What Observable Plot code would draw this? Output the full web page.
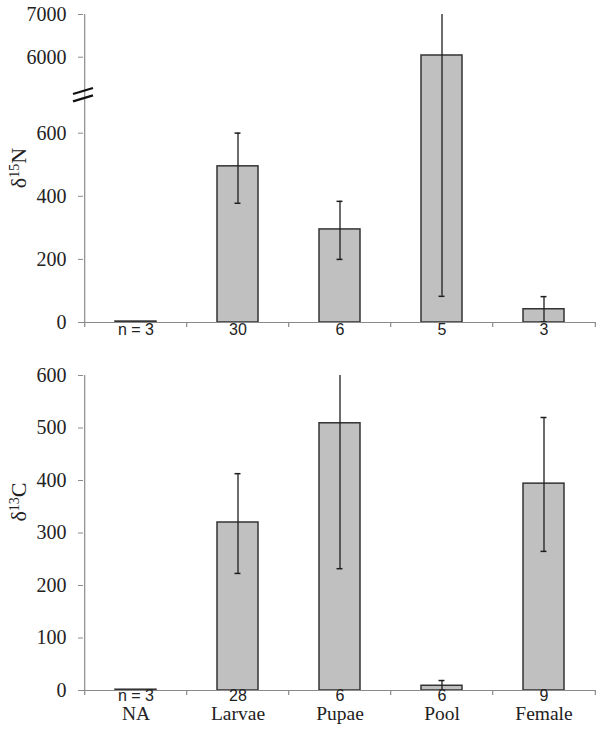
<!DOCTYPE html>
<html><head><meta charset="utf-8">
<script src="https://cdn.jsdelivr.net/npm/d3@7"></script>
<script src="https://cdn.jsdelivr.net/npm/@observablehq/plot@0.6"></script>
<style>body{margin:0;background:#fff} svg{display:block}
g[aria-label="y-axis tick label"], g[aria-label="y-axis tick label"] text {font-family: "Liberation Serif", "Times New Roman", serif !important; font-variant: normal !important; font-variant-numeric: normal !important;}
</style>
</head><body><div id="chart"></div>
<script>
const categories = ["NA", "Larvae", "Pupae", "Pool", "Female"];
const nN = ["n = 3", "30", "6", "5", "3"];
const nC = ["n = 3", "28", "6", "6", "9"];
const n15Mean = [3, 495, 295, 6040, 42];
const n15Lo = [null, 378, 200, 83, 2];
const n15Hi = [null, 606, 384, 7200, 82];
const c13Mean = [1.5, 320, 509, 9, 394];
const c13Lo = [null, 223, 232, 0, 265];
const c13Hi = [null, 413, 620, 19, 520];
const n15Ticks = [0, 200, 400, 600, 6000, 7000];
const c13Ticks = [0, 100, 200, 300, 400, 500, 600];

const W = 604, ML = 83, MR = 8;
const SANS = "Liberation Sans, Arial, sans-serif";
const SERIF = "Liberation Serif, Times New Roman, serif";
const AXIS = "#8a8a8a", BAR = "#c0c0c0", BARSTROKE = "#333", ERR = "#1e1e1e";
const step = (W - ML - MR) / categories.length;
const half = step / 2;
const bandwidth = step * 0.4;
const capInset = (bandwidth - 6) / 2;

function rowsOf(mean, lo, hi, n) {
  return categories.map((c, i) => ({cat: c, mean: mean[i], lo: lo[i], hi: hi[i], n: n[i], name: c}));
}

function panel({rows, y, ticks, height, marginTop, marginBottom, yTop, names, label}) {
  const errs = rows.filter(d => d.lo != null);
  const marks = [
    Plot.barY(rows, {x: "cat", y: "mean", fill: BAR, stroke: BARSTROKE, strokeWidth: 1.5}),
    Plot.ruleY([0], {stroke: AXIS, strokeWidth: 1.2}),
    Plot.ruleX([categories[0]], {x: d => d, dx: -half, y1: 0, y2: yTop, stroke: AXIS, strokeWidth: 1.2}),
    Plot.ruleX(categories, {x: d => d, dx: -half, y1: 0, y2: 0, insetBottom: -5, stroke: AXIS, strokeWidth: 1.2}),
    Plot.ruleX([categories[categories.length - 1]], {x: d => d, dx: half, y1: 0, y2: 0, insetBottom: -5, stroke: AXIS, strokeWidth: 1.2}),
    Plot.ruleX(errs, {x: "cat", y1: "lo", y2: "hi", stroke: ERR, strokeWidth: 1.3, clip: true}),
    Plot.tickY(errs, {x: "cat", y: "hi", insetLeft: capInset, insetRight: capInset, stroke: ERR, strokeWidth: 1.5, clip: true}),
    Plot.tickY(errs, {x: "cat", y: "lo", insetLeft: capInset, insetRight: capInset, stroke: ERR, strokeWidth: 1.5, clip: true}),
    Plot.axisY({ticks, tickSize: 5, tickPadding: 12, stroke: AXIS, fill: "#222", fontSize: 20, fontFamily: SERIF, tickFormat: d => String(d), label: null}),
    Plot.text(rows, {x: "cat", frameAnchor: "bottom", text: "n", dy: names ? 10 : 12, fontFamily: SANS, fontSize: 16, fill: "#222"})
  ];
  if (names) marks.push(Plot.text(rows, {x: "cat", frameAnchor: "bottom", text: "name", dy: 29.5, fontFamily: SERIF, fontSize: 19.5, fill: "#222"}));
  const svg = Plot.plot({
    width: W, height, marginLeft: ML, marginRight: MR, marginTop, marginBottom,
    style: {background: "#fff", fontFamily: SERIF, fontSize: "20px"},
    x: {type: "band", domain: categories, paddingInner: 0.6, paddingOuter: 0.3, axis: null},
    y,
    marks
  });
  d3.select(svg).selectAll('g[aria-label="y-axis tick label"], g[aria-label="y-axis tick label"] text')
    .attr("font-family", SERIF).style("font-family", SERIF).style("font-variant", "normal");
  const t = d3.select(svg).append("text")
    .attr("transform", `translate(26,${label.cy}) rotate(-90)`)
    .attr("text-anchor", "middle")
    .attr("font-family", SERIF).attr("font-size", 22).attr("fill", "#222");
  t.append("tspan").text("δ");
  t.append("tspan").attr("font-size", 14).attr("baseline-shift", "super").text(label.sup);
  t.append("tspan").text(label.end);
  return svg;
}

const topPanel = panel({
  rows: rowsOf(n15Mean, n15Lo, n15Hi, nN),
  y: {type: "linear", domain: [0, 600, 6000, 7000], range: [322, 132.7, 56.7, 14]},
  ticks: n15Ticks, height: 345, marginTop: 14, marginBottom: 23, yTop: 7000, names: false,
  label: {cy: 168, sup: "15", end: "N"}
});
// axis break marks
{
  const ys = topPanel.scale("y");
  const yb = (ys.apply(600) + ys.apply(6000)) / 2;
  const g = d3.select(topPanel).append("g").attr("stroke", "#111").attr("stroke-width", 2.2);
  for (const off of [-3.7, 3.7]) {
    g.append("line").attr("x1", ML - 10).attr("y1", yb + off + 3).attr("x2", ML + 10).attr("y2", yb + off - 3);
  }
}
const bottomPanel = panel({
  rows: rowsOf(c13Mean, c13Lo, c13Hi, nC),
  y: {type: "linear", domain: [0, 600]},
  ticks: c13Ticks, height: 391, marginTop: 30, marginBottom: 46, yTop: 600, names: true,
  label: {cy: 157, sup: "13", end: "C"}
});
document.getElementById("chart").append(topPanel, bottomPanel);
</script>
</body></html>
